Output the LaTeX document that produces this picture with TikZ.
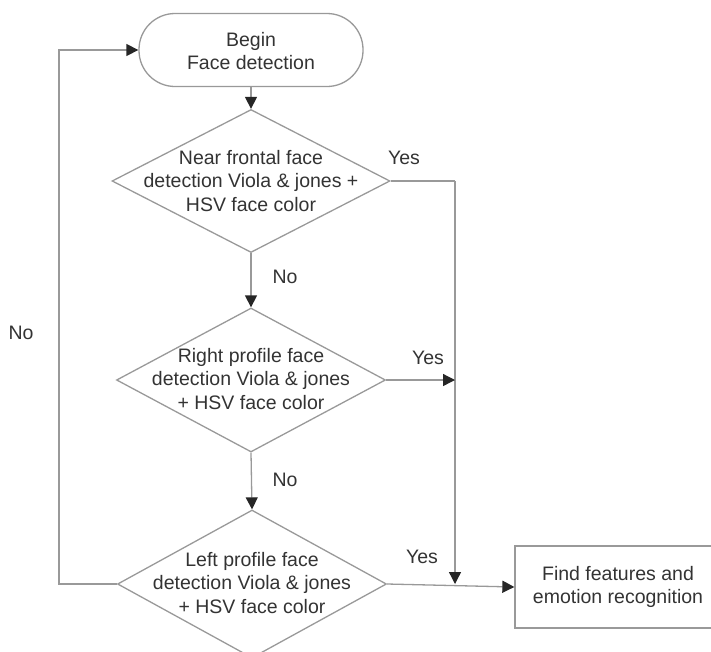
\documentclass[tikz,border=0pt]{standalone}
\usepackage{fontspec}
\setmainfont{Liberation Sans}
\usetikzlibrary{shapes.geometric,arrows.meta}
\definecolor{linegray}{HTML}{999999}
\definecolor{txtgray}{HTML}{333333}
\begin{document}
\begin{tikzpicture}[x=1pt,y=-1pt,
  every node/.style={font=\fontsize{19.5}{23.5}\selectfont, text=txtgray},
  shapeline/.style={draw=linegray, line width=1.3pt},
  dia/.style={shape=diamond, shapeline, inner sep=0pt},
  txt/.style={align=center, inner sep=0pt},
  conn/.style={draw=linegray, line width=1.3pt},
  arr/.style={conn, -{Triangle[length=12pt,width=12pt,color=black!85]}},
  lbl/.style={inner sep=0pt}
]
\useasboundingbox (0,0) rectangle (711,651);
% shapes
\node[shapeline, rounded corners=36pt, minimum width=224pt, minimum height=73pt, inner sep=0pt] (beg) at (251,50) {};
\node[txt] (begt) at (251,51) {Begin\\Face detection};
\node[dia, minimum width=278pt, minimum height=143pt] (d1) at (251,181) {};
\node[txt] (d1t) at (251,181) {Near frontal face\\detection Viola \& jones +\\HSV face color};
\node[dia, minimum width=269pt, minimum height=144pt] (d2) at (251,380) {};
\node[txt] (d2t) at (251,379) {Right profile face\\detection Viola \& jones\\+ HSV face color};
\node[dia, minimum width=269pt, minimum height=148pt] (d3) at (252,584) {};
\node[txt] (d3t) at (252,583) {Left profile face\\detection Viola \& jones\\+ HSV face color};
\node[shapeline, minimum width=206pt, minimum height=82pt, inner sep=0pt] (box) at (618,587) {};
\node[txt] (boxt) at (618,587) {Find features and\\emotion recognition};
% coordinates
\coordinate (rx1) at (455,181);
\coordinate (rx2) at (455,380);
\coordinate (rx3) at (455,584);
\coordinate (lx3) at (59,584);
\coordinate (lx0) at (59,50);
% connectors
\draw[arr] (beg.south) -- (d1.north);
\draw[arr] (d1.south) -- (d2.north);
\draw[arr] (d2.south) -- (d3.north);
\draw[conn] (d1.east) -- (rx1);
\draw[arr] (rx1) -- (rx3);
\draw[arr] (d2.east) -- (rx2);
\draw[arr] (d3.east) -- (box.west);
\draw[arr] (d3.west) -- (lx3) -- (lx0) -- (beg.west);
% labels
\node[lbl] (y1) at (404,158) {Yes};
\node[lbl] (n1) at (285,277) {No};
\node[lbl] (y2) at (428,358) {Yes};
\node[lbl] (n2) at (285,480) {No};
\node[lbl] (y3) at (422,557) {Yes};
\node[lbl] (n3) at (21,333) {No};
\end{tikzpicture}
\end{document}
